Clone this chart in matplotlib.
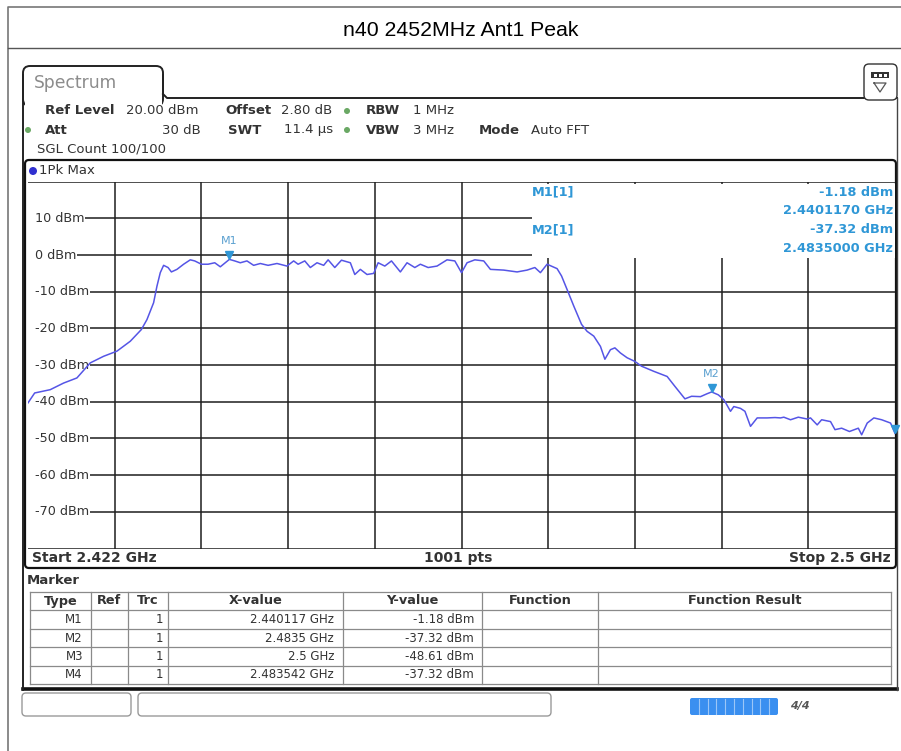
import matplotlib.pyplot as plt
import matplotlib.patches as mpatches
import matplotlib.transforms as mtransforms
import numpy as np

# trace 1 (1Pk Max), frequency in MHz, level in dBm
freq_mhz = [2422.0, 2422.6, 2424.0, 2425.2, 2426.4, 2427.6, 2428.8, 2430.0, 2431.2, 2432.2,
            2432.7, 2433.3, 2433.6, 2433.9, 2434.2, 2434.6, 2434.9, 2435.4, 2436.0, 2436.6,
            2437.0, 2437.6, 2438.2, 2438.8, 2439.3, 2440.117, 2440.6, 2441.1, 2441.7, 2442.3,
            2442.9, 2443.6, 2444.4, 2445.3, 2445.9, 2446.3, 2446.9, 2447.4, 2448.0, 2448.6,
            2449.0, 2449.6, 2450.2, 2451.0, 2451.4, 2451.9, 2452.5, 2453.1, 2453.5, 2454.1,
            2454.7, 2455.5, 2456.1, 2456.8, 2457.3, 2458.0, 2458.8, 2459.7, 2460.4, 2461.0,
            2461.5, 2462.2, 2463.0, 2463.6, 2464.8, 2466.0, 2466.9, 2467.6, 2468.1, 2468.7,
            2469.6, 2470.0, 2470.5, 2471.1, 2471.8, 2472.3, 2472.9, 2473.5, 2473.9, 2474.4,
            2474.8, 2475.3, 2475.9, 2476.6, 2477.2, 2478.3, 2479.5, 2480.2, 2481.1, 2481.7,
            2482.5, 2483.1, 2483.5, 2484.1, 2484.6, 2485.2, 2485.5, 2486.1, 2486.5, 2487.0,
            2487.6, 2488.5, 2489.2, 2489.7, 2490.0, 2490.6, 2491.3, 2492.1, 2492.4, 2493.0,
            2493.4, 2494.2, 2494.6, 2495.2, 2495.9, 2496.7, 2497.0, 2497.5, 2498.1, 2498.8,
            2499.6, 2500.0]
level_dbm = [-40.3, -37.6, -36.7, -34.9, -33.5, -29.4, -27.6, -26.2, -23.5, -20.3,
             -17.6, -13.0, -8.5, -4.8, -2.8, -3.4, -4.6, -3.9, -2.5, -1.3,
             -1.6, -2.5, -2.5, -2.1, -3.2, -1.18, -1.6, -2.1, -1.6, -2.8,
             -2.3, -2.8, -2.3, -3.0, -1.6, -2.5, -1.6, -3.4, -2.1, -2.8,
             -1.3, -3.4, -1.4, -2.1, -5.3, -3.9, -5.3, -5.0, -2.1, -3.0,
             -1.6, -4.6, -2.1, -3.4, -2.5, -3.4, -3.0, -1.3, -1.6, -4.8,
             -2.1, -1.3, -1.6, -3.9, -4.1, -4.6, -4.1, -3.4, -4.8, -2.5,
             -3.7, -5.7, -9.4, -13.9, -18.9, -20.8, -22.1, -24.9, -28.4, -25.8,
             -25.3, -26.7, -28.0, -29.0, -30.3, -31.7, -33.1, -35.8, -39.2, -38.5,
             -38.6, -37.8, -37.32, -38.1, -39.4, -42.6, -41.3, -41.8, -42.6, -46.7,
             -44.4, -44.4, -44.3, -44.4, -44.2, -44.9, -44.2, -44.7, -44.4, -46.3,
             -44.9, -45.4, -47.6, -47.2, -48.1, -47.2, -49.0, -45.8, -44.4, -44.9,
             -45.8, -48.61]

# marker table
marker_names = ["M1", "M2", "M3", "M4"]
marker_trc = [1, 1, 1, 1]
marker_freq = [2440.117, 2483.5, 2500.0, 2483.542]
marker_xtext = ["2.440117 GHz", "2.4835 GHz", "2.5 GHz", "2.483542 GHz"]
marker_level = [-1.18, -37.32, -48.61, -37.32]
table_cols = ["Type", "Ref", "Trc", "X-value", "Y-value", "Function", "Function Result"]

y_labels = [10, 0, -10, -20, -30, -40, -50, -60, -70]
start_ghz, stop_ghz, n_pts = 2.422, 2.5, 1001

UI = "DejaVu Sans"
TXT = "#333333"
MK = "#2f97d6"

fig = plt.figure(figsize=(9.01, 7.51), dpi=100)
bg = fig.add_axes([0, 0, 1, 1])
bg.set_xlim(0, 901)
bg.set_ylim(751, 0)
bg.axis("off")

def t(x, y, s, size=9.5, on=None, **kw):
    kw.setdefault("family", UI)
    kw.setdefault("color", TXT)
    kw.setdefault("va", "center")
    (on or bg).text(x, y, s, fontsize=size, **kw)

def dot(x, y, c="#6aa864", r=3):
    bg.add_patch(mpatches.Circle((x, y), r, fc=c, ec="none"))

# outer page frame and title
bg.plot([8, 8, 901], [751, 7, 7], color="#777777", lw=1.2)
bg.plot([8, 901], [48, 48], color="#555555", lw=1.0)
t(461, 30, "n40 2452MHz Ant1 Peak", size=15.3, family="Liberation Sans", color="black", ha="center")

# spectrum tab
tab = mpatches.FancyBboxPatch((23, 66), 140, 40, boxstyle="round,pad=0,rounding_size=7",
                              fc="white", ec="#222222", lw=1.4)
bg.add_patch(tab)
bg.add_patch(mpatches.Rectangle((24.5, 98.8), 137, 10, fc="white", ec="none", zorder=2))
bg.plot([163, 163], [75, 94], color="#222222", lw=1.4, zorder=3)
bg.plot([163, 167, 897], [94, 98, 98], color="#222222", lw=1.4, zorder=3)
bg.plot([23, 23], [75, 690], color="#222222", lw=1.4, zorder=3)
bg.plot([897, 897], [98, 690], color="#444444", lw=1.0, zorder=3)
t(34, 83, "Spectrum", size=12.3, color="#8c8c8c")

btn = mpatches.FancyBboxPatch((864, 64), 33, 36, boxstyle="round,pad=0,rounding_size=5",
                              fc="white", ec="#333333", lw=1.0, zorder=4)
bg.add_patch(btn)
bg.add_patch(mpatches.Rectangle((871, 72), 18, 6, fc="#333333", ec="none", zorder=5))
for bx in (874, 879, 884):
    bg.add_patch(mpatches.Rectangle((bx, 73.5), 3, 3, fc="white", ec="none", zorder=6))
bg.plot([874, 886, 880, 874], [83, 83, 92, 83], color="#555555", lw=0.9, zorder=5)

# setting lines
t(45, 111, "Ref Level", weight="bold")
t(126, 111, "20.00 dBm")
t(225, 111, "Offset", weight="bold")
t(281, 111, "2.80 dB")
dot(347, 111)
t(366, 111, "RBW", weight="bold")
t(413, 111, "1 MHz")
dot(28, 130)
t(45, 130, "Att", weight="bold")
t(201, 130, "30 dB", ha="right")
t(228, 130, "SWT", weight="bold")
t(284, 130, "11.4 \u00b5s")
dot(347, 130)
t(366, 130, "VBW", weight="bold")
t(413, 130, "3 MHz")
t(479, 130, "Mode", weight="bold")
t(531, 130, "Auto FFT")
t(37, 149, "SGL Count 100/100")

# diagram box
box = mpatches.FancyBboxPatch((25, 160), 871, 408, boxstyle="round,pad=0,rounding_size=4",
                              fc="white", ec="#111111", lw=1.6)
bg.add_patch(box)
dot(33, 171, c="#2f2fd0", r=4)
t(39, 171, "1Pk Max", size=9.5)
t(32, 558, f"Start {start_ghz:g} GHz", size=10, weight="bold")
t(458, 558, f"{n_pts} pts", size=10, weight="bold", ha="center")
t(891, 558, f"Stop {stop_ghz:g} GHz", size=10, weight="bold", ha="right")

ax = fig.add_axes([28 / 901, 1 - 548.5 / 751, (895 - 28) / 901, (548.5 - 181.7) / 751])
ax.set_xlim(start_ghz * 1000, stop_ghz * 1000)
ax.set_ylim(-80, 20)
ax.set_xticks(np.linspace(start_ghz * 1000, stop_ghz * 1000, 11)[1:-1])
ax.set_yticks(np.arange(-80, 21, 10))
ax.grid(True, color="#1e1e1e", lw=1.1)
ax.tick_params(length=0, labelbottom=False, labelleft=False)
for s in ax.spines.values():
    s.set_visible(False)
ax.patch.set_alpha(0)

# marker readout area and level labels hide the grid
ax.add_patch(mpatches.Rectangle((2467.35, -0.7), 40, 20.2, fc="white", ec="none", zorder=2))
ax.add_patch(mpatches.Rectangle((2422, -75), 0.6, 90, fc="white", ec="none", zorder=2))

for v in y_labels:
    ax.text(2422.6, v, f"{v} dBm", fontsize=9.2, family=UI, color=TXT, va="center", ha="left",
            zorder=2.6, bbox=dict(fc="white", ec="none", pad=0.6))

ax.plot(freq_mhz, level_dbm, color="#5555e6", lw=1.1, zorder=3)

# markers on the trace
up = mtransforms.offset_copy(ax.transData, fig=fig, y=4, units="dots")
for name, f, v in zip(marker_names[:2], marker_freq[:2], marker_level[:2]):
    ax.plot(f, v, marker="v", ms=5.5, color=MK, transform=up, zorder=4)
    ax.annotate(name, (f, v), xytext=(0, 13), textcoords="offset points", ha="center",
                va="center", fontsize=8, color="#5aa0d0", family=UI, zorder=4)
ax.plot(marker_freq[2], marker_level[2], marker="v", ms=5.5, color=MK, transform=up,
        zorder=4, clip_on=False)

# overlay for the marker readout text
fg = fig.add_axes([0, 0, 1, 1])
fg.set_xlim(0, 901)
fg.set_ylim(751, 0)
fg.axis("off")
for i, k in enumerate([0, 1]):
    y0 = 192 + i * 37.5
    t(532, y0, f"{marker_names[k]}[{marker_trc[k]}]", size=9.3, on=fg, color=MK, weight="bold")
    t(893, y0, f"{marker_level[k]:.2f} dBm", size=9.3, on=fg, color=MK, weight="bold", ha="right")
    t(893, y0 + 18.5, f"{marker_freq[k] / 1000:.7f} GHz", size=9.3, on=fg, color=MK,
      weight="bold", ha="right")

# marker table
t(27, 580, "Marker", weight="bold")
col_x = [30, 91, 128, 168, 343, 482, 598, 891]
row_y = [592, 610, 629, 647, 666, 684]
for x in col_x:
    bg.plot([x, x], [row_y[0], row_y[-1]], color="#8a8a8a", lw=0.9)
for y in row_y:
    bg.plot([col_x[0], col_x[-1]], [y, y], color="#8a8a8a", lw=0.9)
for i, name in enumerate(table_cols):
    t((col_x[i] + col_x[i + 1]) / 2, 601, name, size=9.3, weight="bold", ha="center")
for r in range(4):
    yc = (row_y[r + 1] + row_y[r + 2]) / 2
    t(col_x[1] - 8, yc, marker_names[r], ha="right", size=8.5)
    t(col_x[3] - 5, yc, str(marker_trc[r]), ha="right", size=8.5)
    t(col_x[4] - 9, yc, marker_xtext[r], ha="right", size=8.5)
    t(col_x[5] - 8, yc, f"{marker_level[r]:.2f} dBm", ha="right", size=8.5)
bg.plot([23, 897], [689, 689], color="#111111", lw=2.6)

# status bar
for x0, w in [(22, 109), (138, 413)]:
    bg.add_patch(mpatches.FancyBboxPatch((x0, 693), w, 23, boxstyle="round,pad=0,rounding_size=4",
                                         fc="white", ec="#9a9a9a", lw=1.0))
bg.add_patch(mpatches.FancyBboxPatch((690, 698), 88, 17, boxstyle="round,pad=0,rounding_size=2",
                                     fc="#3a8ff0", ec="none"))
for sx in np.linspace(690, 778, 11)[1:-1]:
    bg.plot([sx, sx], [699, 714], color="#9cc6f7", lw=0.8)
t(800, 706, "4/4", size=8, weight="bold", color="#555555", ha="center", style="italic")

fig.savefig("out.png", dpi=100)
